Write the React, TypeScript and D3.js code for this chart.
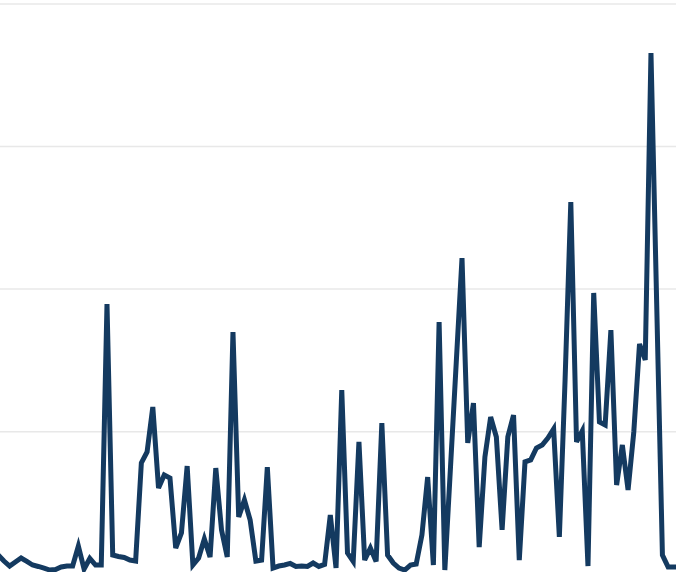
import React from "react";
import * as d3 from "d3";

const values: number[] = [
  13.5, 9.3, 5.8, 8.6, 11.4, 9.0, 6.5, 5.5, 4.4, 3.0,
  3.4, 5.1, 5.8, 5.8, 19.8, 3.7, 11.1, 6.5, 6.5, 189.5,
  13.5, 12.5, 11.8, 10.0, 9.3, 78.1, 85.8, 117.3, 60.5, 69.6,
  67.5, 18.4, 29.0, 75.9, 6.5, 11.4, 24.8, 12.1, 74.5, 31.1,
  12.1, 169.9, 40.2, 52.1, 38.1, 9.3, 10.0, 75.2, 4.4, 5.8,
  6.5, 7.6, 5.5, 5.8, 5.5, 7.9, 5.5, 6.9, 41.6, 4.4,
  129.2, 14.9, 9.0, 92.8, 10.0, 18.4, 9.0, 106.1, 13.5, 7.9,
  4.4, 3.0, 6.5, 7.2, 27.6, 68.2, 6.5, 176.9, 3.0, 75.9,
  148.9, 221.8, 92.1, 120.1, 19.1, 82.3, 110.3, 96.3, 31.1, 96.3,
  111.7, 10.0, 78.8, 80.2, 88.6, 90.7, 95.6, 101.9, 26.2, 136.3,
  261.1, 92.8, 100.5, 5.8, 197.3, 106.8, 104.7, 171.3, 62.6, 90.7,
  59.1, 99.8, 161.5, 150.3, 365.6, 189.5, 13.5, 5.1, 5.1, 5.1,
];

const gridTicks: number[] = [0, 100, 200, 300, 400];

const W = 676;
const H = 572;

export default function App() {
  const x = d3.scaleLinear().domain([0, values.length - 1]).range([-1.8, 679.6]);
  const y = d3.scaleLinear().domain([0, 400]).range([574.3, 3.9]);
  const line = d3
    .line<number>()
    .x((_, i) => x(i))
    .y((d) => y(d));

  return (
    <svg
      width={W}
      height={H}
      style={{ position: "absolute", left: 0, top: 0, background: "#fff" }}
    >
      <g>
        {gridTicks.map((t) => (
          <line
            key={t}
            x1={0}
            x2={W}
            y1={y(t)}
            y2={y(t)}
            stroke="#e8e8e8"
            strokeWidth={1.5}
          />
        ))}
      </g>
      <path
        d={line(values) || ""}
        fill="none"
        stroke="#143a60"
        strokeWidth={5}
      />
    </svg>
  );
}
